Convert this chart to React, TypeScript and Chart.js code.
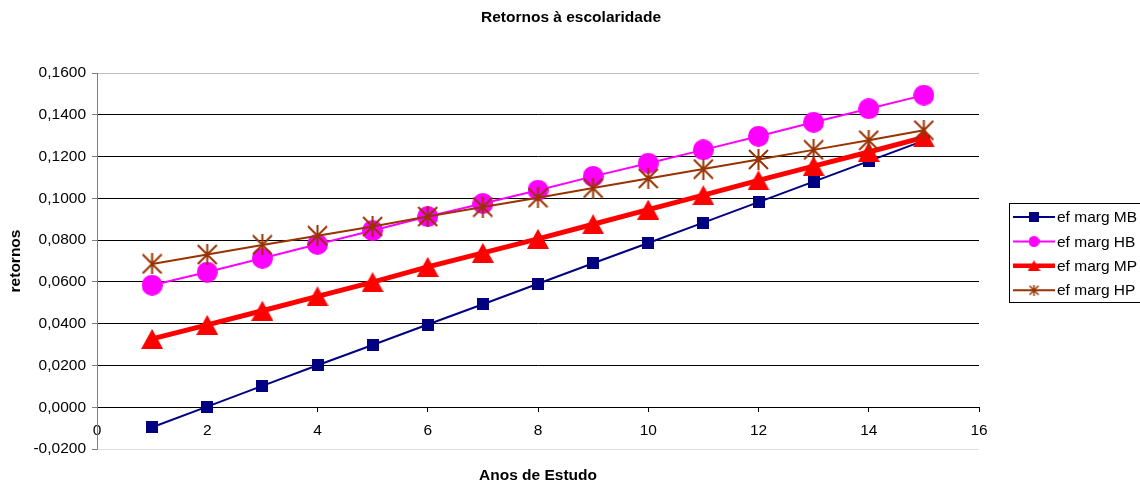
import React, { useEffect, useRef } from 'react';
import { Chart, registerables } from 'chart.js';

Chart.register(...registerables);

const chartTitle = 'Retornos à escolaridade';
const xAxisTitle = 'Anos de Estudo';
const yAxisTitle = 'retornos';

const anos = [1, 2, 3, 4, 5, 6, 7, 8, 9, 10, 11, 12, 13, 14, 15];
const seriesNames = ['ef marg MB', 'ef marg HB', 'ef marg MP', 'ef marg HP'];
const efMargMB = [-0.0096, 0.0003, 0.0102, 0.0201, 0.0298, 0.0396, 0.0493, 0.0591, 0.0689, 0.0786, 0.0884, 0.0982, 0.108, 0.1178, 0.1276];
const efMargHB = [0.0584, 0.0647, 0.0713, 0.078, 0.0846, 0.0913, 0.0975, 0.1039, 0.1105, 0.1168, 0.1232, 0.1297, 0.1364, 0.1429, 0.1494];
const efMargMP = [0.0327, 0.0394, 0.0462, 0.0531, 0.0599, 0.0672, 0.0739, 0.0806, 0.0876, 0.0946, 0.1015, 0.1086, 0.1154, 0.1222, 0.1292];
const efMargHP = [0.0686, 0.0731, 0.0777, 0.0821, 0.0865, 0.0913, 0.0958, 0.1003, 0.1049, 0.1095, 0.114, 0.1186, 0.1232, 0.1278, 0.1326];

const xTicks = [0, 2, 4, 6, 8, 10, 12, 14, 16];
const yTicks = [-0.02, 0, 0.02, 0.04, 0.06, 0.08, 0.1, 0.12, 0.14, 0.16];

const FONT = '"Liberation Sans", Arial, sans-serif';

type MarkerKind = 'square' | 'circle' | 'triangle' | 'star';

function makeMarker(kind: MarkerKind, color: string, w: number, h: number, lw = 2): HTMLCanvasElement {
  const c = document.createElement('canvas');
  c.width = w;
  c.height = h;
  const g = c.getContext('2d') as CanvasRenderingContext2D;
  g.fillStyle = color;
  g.strokeStyle = color;
  if (kind === 'square') {
    g.fillRect(0, 0, w, h);
  } else if (kind === 'circle') {
    g.beginPath();
    g.arc(w / 2, h / 2, Math.min(w, h) / 2, 0, Math.PI * 2);
    g.fill();
  } else if (kind === 'triangle') {
    g.beginPath();
    g.moveTo(w / 2, 0);
    g.lineTo(w, h);
    g.lineTo(0, h);
    g.closePath();
    g.fill();
  } else {
    g.lineWidth = lw;
    g.beginPath();
    g.moveTo(1, 1);
    g.lineTo(w - 1, h - 1);
    g.moveTo(w - 1, 1);
    g.lineTo(1, h - 1);
    g.moveTo(w / 2, 0);
    g.lineTo(w / 2, h);
    g.stroke();
  }
  return c;
}

export default function App() {
  const canvasRef = useRef<HTMLCanvasElement | null>(null);

  useEffect(() => {
    if (!canvasRef.current) return;
    const colors = ['#000080', '#FF00FF', '#FF0000', '#993300'];
    const widths = [2, 2, 5, 2];
    const values = [efMargMB, efMargHB, efMargMP, efMargHP];
    const markers = [
      makeMarker('square', colors[0], 12, 12),
      makeMarker('circle', colors[1], 21, 21),
      makeMarker('triangle', colors[2], 22, 20),
      makeMarker('star', colors[3], 21, 21, 2),
    ];
    const legendMarkers = [
      makeMarker('square', colors[0], 10, 10),
      makeMarker('circle', colors[1], 11, 11),
      makeMarker('triangle', colors[2], 13, 11),
      makeMarker('star', colors[3], 11, 11, 1.5),
    ];

    const datasets = seriesNames.map((name, i) => ({
      label: name,
      data: anos.map((a, k) => ({ x: a, y: values[i][k] })),
      borderColor: colors[i],
      backgroundColor: colors[i],
      borderWidth: widths[i],
      pointStyle: markers[i],
      pointRadius: 10,
      tension: 0,
      order: 4 - i,
    }));

    const overlay = {
      id: 'overlay',
      afterDraw(chart: any) {
        const ctx = chart.ctx as CanvasRenderingContext2D;
        const ca = chart.chartArea;
        ctx.save();
        ctx.fillStyle = '#000';
        ctx.textAlign = 'center';
        ctx.textBaseline = 'middle';
        ctx.font = `bold 15.5px ${FONT}`;
        ctx.fillText(chartTitle, 571, 18);
        ctx.font = `bold 15.5px ${FONT}`;
        ctx.fillText(xAxisTitle, (ca.left + ca.right) / 2, 476);

        // legend
        const lx = 1009.5;
        const ly = 203.5;
        ctx.strokeStyle = '#000';
        ctx.lineWidth = 1;
        ctx.strokeRect(lx, ly, 140, 99);
        ctx.textAlign = 'left';
        ctx.font = `15.5px ${FONT}`;
        seriesNames.forEach((name, i) => {
          const y = 217 + i * 24.4;
          ctx.strokeStyle = colors[i];
          ctx.lineWidth = widths[i] === 5 ? 4.5 : 2;
          ctx.beginPath();
          ctx.moveTo(1013, y);
          ctx.lineTo(1055, y);
          ctx.stroke();
          const m = legendMarkers[i];
          ctx.drawImage(m, 1034 - m.width / 2, y - m.height / 2);
          ctx.fillStyle = '#000';
          ctx.fillText(name, 1057, y + 1);
        });
        ctx.restore();
      },
    };

    const fmt = (v: number) => {
      const val = Math.abs(v) < 1e-9 ? 0 : v;
      return val.toFixed(4).replace('.', ',');
    };

    const chart = new Chart(canvasRef.current, {
      type: 'line',
      data: { datasets },
      options: {
        animation: false,
        responsive: false,
        layout: { padding: { left: 0, top: 73, right: 161, bottom: 36 } },
        plugins: {
          legend: { display: false },
          title: { display: false },
          tooltip: { enabled: false },
        },
        scales: {
          x: {
            type: 'linear',
            position: { y: 0 },
            min: 0,
            max: 16,
            afterBuildTicks: (s: any) => {
              s.ticks = xTicks.map((v) => ({ value: v }));
            },
            grid: { drawOnChartArea: false, drawTicks: true, tickLength: 4, color: '#000', tickColor: '#000' },
            border: { display: true, color: '#000', width: 1 },
            ticks: { padding: 10, color: '#000', font: { family: FONT, size: 15.5 }, maxRotation: 0, autoSkip: false },
          },
          y: {
            type: 'linear',
            min: -0.02,
            max: 0.16,
            afterBuildTicks: (s: any) => {
              s.ticks = yTicks.map((v) => ({ value: v }));
            },
            afterFit: (s: any) => {
              s.width = 97;
            },
            grid: {
              color: (c: any) => {
                const v = c.tick ? c.tick.value : 0;
                if (v > 0.155) return '#bdbdbd';
                if (v < -0.015) return '#e0e0e0';
                return '#000';
              },
              tickColor: '#808080',
              tickLength: 5,
              lineWidth: 1,
            },
            border: { display: true, color: '#808080', width: 1 },
            ticks: {
              padding: 6,
              color: '#000',
              font: { family: FONT, size: 15.5 },
              autoSkip: false,
              callback: (v: any) => fmt(Number(v)),
            },
            title: {
              display: true,
              text: yAxisTitle,
              color: '#000',
              font: { family: FONT, size: 15.5, weight: 'bold' },
              padding: 6,
            },
          },
        },
      } as any,
      plugins: [overlay],
    });
    return () => chart.destroy();
  }, []);

  return (
    <div style={{ position: 'absolute', left: 0, top: 0, width: 1140, height: 485, background: '#fff' }}>
      <canvas ref={canvasRef} width={1140} height={485} style={{ display: 'block' }} />
    </div>
  );
}
